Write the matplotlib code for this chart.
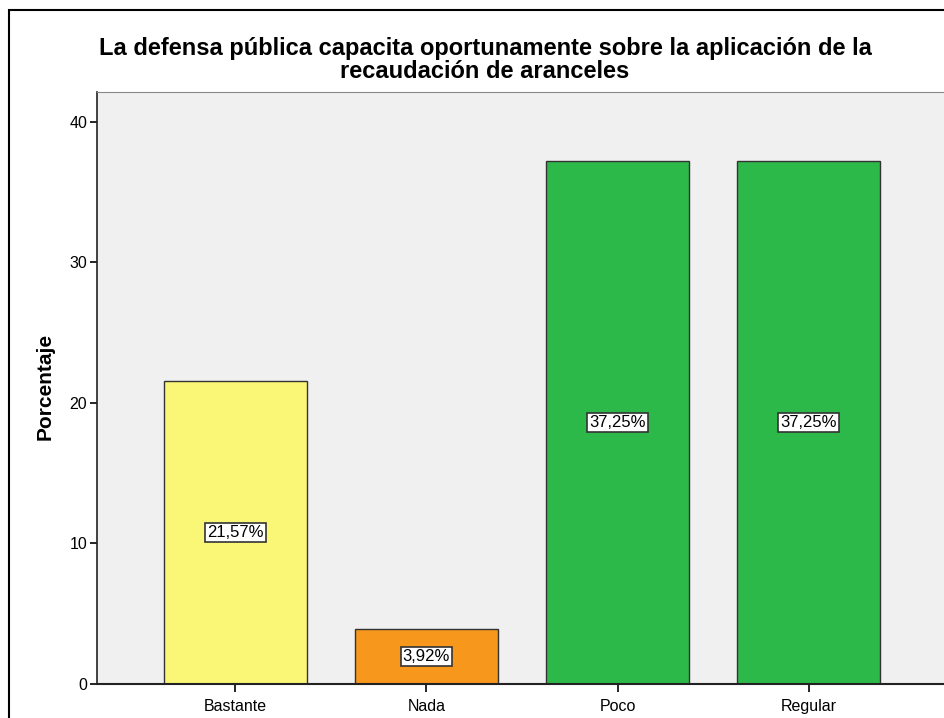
import matplotlib
matplotlib.use("Agg")
import matplotlib.pyplot as plt
from matplotlib.patches import Rectangle

categories = ["Bastante", "Nada", "Poco", "Regular"]
values = [21.57, 3.92, 37.25, 37.25]
labels = ["21,57%", "3,92%", "37,25%", "37,25%"]
colors = ["#FBF776", "#F7981D", "#2DB84A", "#2DB84A"]
yticks = [0, 10, 20, 30, 40]

plt.rcParams['font.family'] = ['Liberation Sans', 'DejaVu Sans']

fig = plt.figure(figsize=(9.45, 7.18), dpi=100)
fig.patch.set_facecolor('white')
fig.patches.append(Rectangle((9/945, -0.05), 1.1, 1 - 10/718 + 0.05, transform=fig.transFigure,
                             fill=False, edgecolor='black', linewidth=1.5))

ax = fig.add_axes([97/945, 1 - 684/718, 850/945, 592/718])
ax.set_facecolor('#F0F0F0')
x = list(range(len(categories)))
ax.bar(x, values, width=0.75, color=colors, edgecolor='#333333', linewidth=1.0, zorder=2)
for xi, v, lab in zip(x, values, labels):
    ax.text(xi, v / 2, lab, ha='center', va='center', fontsize=12, color='black', zorder=3,
            bbox=dict(boxstyle='square,pad=0.12', facecolor='white', edgecolor='#333333', linewidth=1.2))

ax.set_xlim(-0.725, 3.725)
ax.set_ylim(0, 42.13)
ax.set_xticks(x)
ax.set_xticklabels(categories, fontsize=11.5)
ax.set_yticks(yticks)
ax.set_yticklabels([str(t) for t in yticks], fontsize=11.5)
ax.tick_params(axis='y', direction='out', length=5, width=1.2, pad=2)
ax.tick_params(axis='x', direction='out', length=6, width=1.2, pad=5)
ax.spines['right'].set_visible(False)
ax.spines['top'].set_color('#888888')
ax.spines['left'].set_color('#222222')
ax.spines['bottom'].set_color('#222222')
ax.spines['left'].set_linewidth(1.2)
ax.spines['bottom'].set_linewidth(1.5)

fig.text(485/945, 1 - 48/718, "La defensa pública capacita oportunamente sobre la aplicación de la",
         ha='center', va='center', fontsize=17, fontweight='bold')
fig.text(485/945, 1 - 72/718, "recaudación de aranceles",
         ha='center', va='center', fontsize=17, fontweight='bold')
fig.text(45/945, 1 - 386/718, "Porcentaje", rotation=90, ha='center', va='center',
         fontsize=15, fontweight='bold')

fig.savefig("out.png", dpi=100)
